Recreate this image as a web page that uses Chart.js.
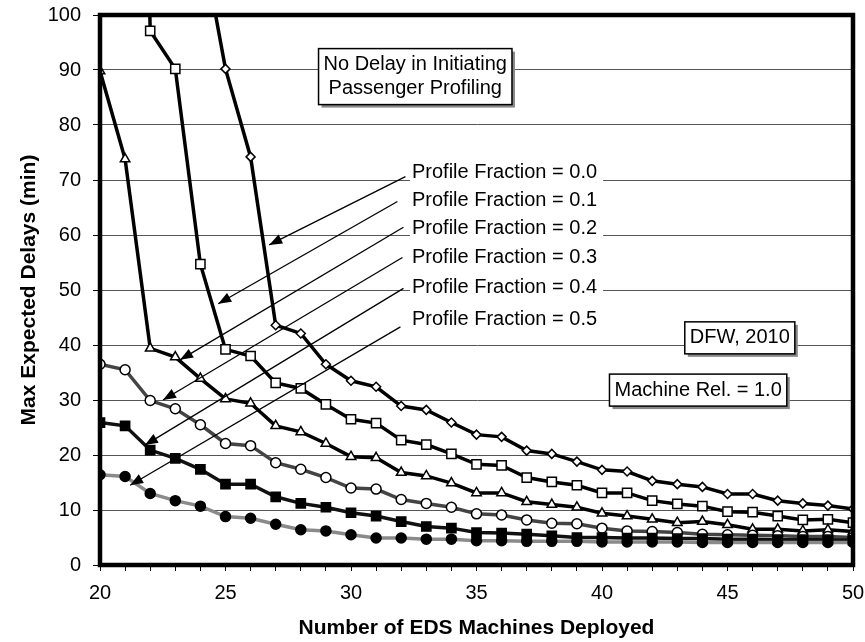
<!DOCTYPE html>
<html>
<head>
<meta charset="utf-8">
<script src="https://cdn.jsdelivr.net/npm/chart.js@4/dist/chart.umd.min.js"></script>
<style>
  html, body { margin: 0; padding: 0; background: #fff; }
  #wrap { width: 865px; height: 642px; position: relative; }
</style>
</head>
<body>
<div id="wrap"><canvas id="myChart"></canvas></div>
<script>
// number of EDS machines (x values)
var machines = [20, 21, 22, 23, 24, 25, 26, 27, 28, 29, 30, 31, 32, 33, 34, 35,
                36, 37, 38, 39, 40, 41, 42, 43, 44, 45, 46, 47, 48, 49, 50];

// max expected delays (min) per profile fraction
var pf00 = [null, null, null, null, 115, 90.2, 74.2, 43.6, 42.1, 36.5, 33.5, 32.4, 28.9, 28.2, 25.9, 23.7,
            23.3, 20.8, 20.2, 18.8, 17.3, 17.0, 15.3, 14.7, 14.2, 12.9, 12.9, 11.7, 11.2, 10.8, 10.2];
var pf01 = [null, 300, 97.1, 90.2, 54.7, 39.2, 38.0, 33.1, 32.1, 29.2, 26.5, 25.8, 22.7, 21.9, 20.2, 18.3,
            18.1, 15.9, 15.1, 14.5, 13.1, 13.1, 11.7, 11.1, 10.7, 9.7, 9.6, 8.9, 8.2, 8.3, 7.7];
var pf02 = [89.8, 73.8, 39.4, 37.8, 33.9, 30.2, 29.4, 25.3, 24.2, 22.1, 19.7, 19.5, 16.8, 16.2, 14.9, 13.1,
            13.1, 11.5, 11.0, 10.5, 9.4, 8.9, 8.3, 7.7, 7.9, 7.3, 6.5, 6.5, 6.2, 6.4, 6.1];
var pf03 = [36.5, 35.5, 29.9, 28.4, 25.5, 22.1, 21.7, 18.6, 17.4, 15.9, 14.0, 13.8, 11.9, 11.2, 10.5, 9.3,
            9.1, 8.2, 7.6, 7.5, 6.7, 6.2, 6.1, 5.9, 5.6, 5.5, 5.4, 5.3, 5.2, 5.2, 5.0];
var pf04 = [25.9, 25.3, 20.9, 19.4, 17.4, 14.7, 14.7, 12.4, 11.2, 10.5, 9.5, 8.9, 7.9, 7.0, 6.7, 5.9,
            5.8, 5.6, 5.3, 5.0, 5.0, 4.9, 4.9, 4.8, 4.8, 4.7, 4.7, 4.6, 4.6, 4.6, 4.5];
var pf05 = [16.4, 16.1, 13.0, 11.7, 10.7, 8.8, 8.5, 7.4, 6.4, 6.2, 5.5, 4.9, 4.9, 4.7, 4.7, 4.4,
            4.4, 4.3, 4.3, 4.3, 4.2, 4.2, 4.2, 4.2, 4.1, 4.1, 4.1, 4.1, 4.1, 4.1, 4.1];

var yTicks = [0, 10, 20, 30, 40, 50, 60, 70, 80, 90, 100];
var seriesNames = ['Profile Fraction = 0.0', 'Profile Fraction = 0.1', 'Profile Fraction = 0.2',
                   'Profile Fraction = 0.3', 'Profile Fraction = 0.4', 'Profile Fraction = 0.5'];

var FONT = '"Liberation Sans", Arial, Helvetica, sans-serif';

function pts(values) {
  return machines.map(function (m, i) { return { x: m, y: values[i] }; });
}

// labels + leader arrows, placed in data units
var labelSpots = [
  { tx: 32.43, ty: 71.3, from: [32.17, 70.6], tip: [26.74, 58.2] },
  { tx: 32.43, ty: 66.2, from: [31.85, 66.1], tip: [24.71, 47.5] },
  { tx: 32.43, ty: 61.1, from: [32.09, 61.4], tip: [23.19, 37.3] },
  { tx: 32.43, ty: 56.0, from: [32.05, 55.9], tip: [22.51, 30.0] },
  { tx: 32.43, ty: 50.4, from: [32.09, 50.3], tip: [21.79, 21.8] },
  { tx: 32.43, ty: 44.7, from: [31.97, 43.3], tip: [21.20, 14.5] }
];
var boxes = [
  { x: 32.56, y: 88.8, lines: ['No Delay in Initiating', 'Passenger Profiling'] },
  { x: 45.49, y: 41.3, lines: ['DFW, 2010'] },
  { x: 43.83, y: 31.8, lines: ['Machine Rel. = 1.0'] }
];

var annotations = {
  id: 'annotations',
  afterDatasetsDraw: function (chart) {
    var ctx = chart.ctx, xs = chart.scales.x, ys = chart.scales.y, a = chart.chartArea;
    ctx.save();
    ctx.font = '20px ' + FONT;
    ctx.textBaseline = 'middle';

    // leader lines with arrow heads
    labelSpots.forEach(function (s, i) {
      var x0 = xs.getPixelForValue(s.from[0]), y0 = ys.getPixelForValue(s.from[1]);
      var x1 = xs.getPixelForValue(s.tip[0]), y1 = ys.getPixelForValue(s.tip[1]);
      ctx.strokeStyle = '#000';
      ctx.lineWidth = 1.3;
      ctx.beginPath();
      ctx.moveTo(x0, y0);
      ctx.lineTo(x1, y1);
      ctx.stroke();
      var ang = Math.atan2(y1 - y0, x1 - x0), len = 13, half = 5;
      ctx.fillStyle = '#000';
      ctx.beginPath();
      ctx.moveTo(x1, y1);
      ctx.lineTo(x1 - len * Math.cos(ang) + half * Math.sin(ang), y1 - len * Math.sin(ang) - half * Math.cos(ang));
      ctx.lineTo(x1 - len * Math.cos(ang) - half * Math.sin(ang), y1 - len * Math.sin(ang) + half * Math.cos(ang));
      ctx.closePath();
      ctx.fill();

      // label text on white so grid lines stop at it
      var tx = xs.getPixelForValue(s.tx), ty = ys.getPixelForValue(s.ty);
      var w = ctx.measureText(seriesNames[i]).width;
      ctx.fillStyle = '#fff';
      ctx.fillRect(tx - 2, ty - 11, w + 8, 22);
      ctx.fillStyle = '#000';
      ctx.textAlign = 'left';
      ctx.fillText(seriesNames[i], tx, ty);
    });

    // framed text boxes
    boxes.forEach(function (b) {
      var cx = xs.getPixelForValue(b.x), cy = ys.getPixelForValue(b.y);
      var w = 0;
      b.lines.forEach(function (t) { w = Math.max(w, ctx.measureText(t).width); });
      var lh = 24, bw = w + 10, bh = lh * b.lines.length + 8;
      var left = cx - bw / 2, top = cy - bh / 2;
      ctx.fillStyle = '#888';
      ctx.fillRect(left + 3, top + 3, bw, bh);
      ctx.fillStyle = '#fff';
      ctx.fillRect(left, top, bw, bh);
      ctx.strokeStyle = '#000';
      ctx.lineWidth = 1.5;
      ctx.strokeRect(left, top, bw, bh);
      ctx.fillStyle = '#000';
      ctx.textAlign = 'center';
      b.lines.forEach(function (t, k) {
        ctx.fillText(t, cx, top + 4 + lh / 2 + k * lh);
      });
    });

    // heavy plot frame
    ctx.strokeStyle = '#000';
    ctx.lineWidth = 4.5;
    ctx.strokeRect(a.left, a.top, a.right - a.left, a.bottom - a.top);
    ctx.restore();
  }
};

function ds(label, values, style, radius, fill, lineColor) {
  return {
    label: label,
    data: pts(values),
    borderColor: lineColor,
    borderWidth: 3.5,
    pointStyle: style,
    pointRadius: radius,
    pointBorderWidth: 1.5,
    pointBorderColor: '#000',
    pointBackgroundColor: fill,
    tension: 0,
    spanGaps: false
  };
}

var ctx = document.getElementById('myChart').getContext('2d');
var myChart = new Chart(ctx, {
  type: 'line',
  data: {
    datasets: [
      ds(seriesNames[5], pf05, 'circle', 5, '#000', '#8a8a8a'),
      ds(seriesNames[4], pf04, 'rect', 6.5, '#000', '#111'),
      ds(seriesNames[3], pf03, 'circle', 5, '#fff', '#444'),
      ds(seriesNames[2], pf02, 'triangle', 5.5, '#fff', '#000'),
      ds(seriesNames[1], pf01, 'rect', 6.5, '#fff', '#000'),
      ds(seriesNames[0], pf00, 'rectRot', 4.5, '#fff', '#000')
    ]
  },
  options: {
    responsive: true,
    maintainAspectRatio: false,
    animation: false,
    layout: { padding: { top: 15, right: 12, left: 0, bottom: 0 } },
    plugins: { legend: { display: false }, tooltip: { enabled: false } },
    scales: {
      x: {
        type: 'linear',
        min: 20,
        max: 50,
        afterFit: function (s) { s.height = 77; s.paddingLeft = 0; s.paddingRight = 0; },
        ticks: {
          stepSize: 1,
          autoSkip: false,
          maxRotation: 0,
          color: '#000',
          padding: 10,
          font: { size: 20, family: FONT },
          callback: function (v) { return v % 5 === 0 ? String(v) : ''; }
        },
        grid: { drawOnChartArea: false, drawTicks: true, tickLength: 6, color: '#000', lineWidth: 1 },
        border: { color: '#000', width: 4 },
        title: {
          display: true,
          text: 'Number of EDS Machines Deployed',
          color: '#000',
          font: { size: 21, weight: 'bold', family: FONT },
          padding: { top: 0, bottom: 1 }
        }
      },
      y: {
        min: 0,
        max: 100,
        afterFit: function (s) { s.width = 100; s.paddingTop = 0; s.paddingBottom = 0; },
        afterBuildTicks: function (s) { s.ticks = yTicks.map(function (v) { return { value: v }; }); },
        ticks: {
          color: '#000',
          padding: 12,
          font: { size: 20, family: FONT }
        },
        grid: { color: '#555', lineWidth: 1, tickLength: 7, tickColor: '#000' },
        border: { color: '#000', width: 4 },
        title: {
          display: true,
          text: 'Max Expected Delays (min)',
          color: '#000',
          font: { size: 21, weight: 'bold', family: FONT },
          padding: { top: 17, bottom: 0 }
        }
      }
    }
  },
  plugins: [annotations]
});
</script>
</body>
</html>
